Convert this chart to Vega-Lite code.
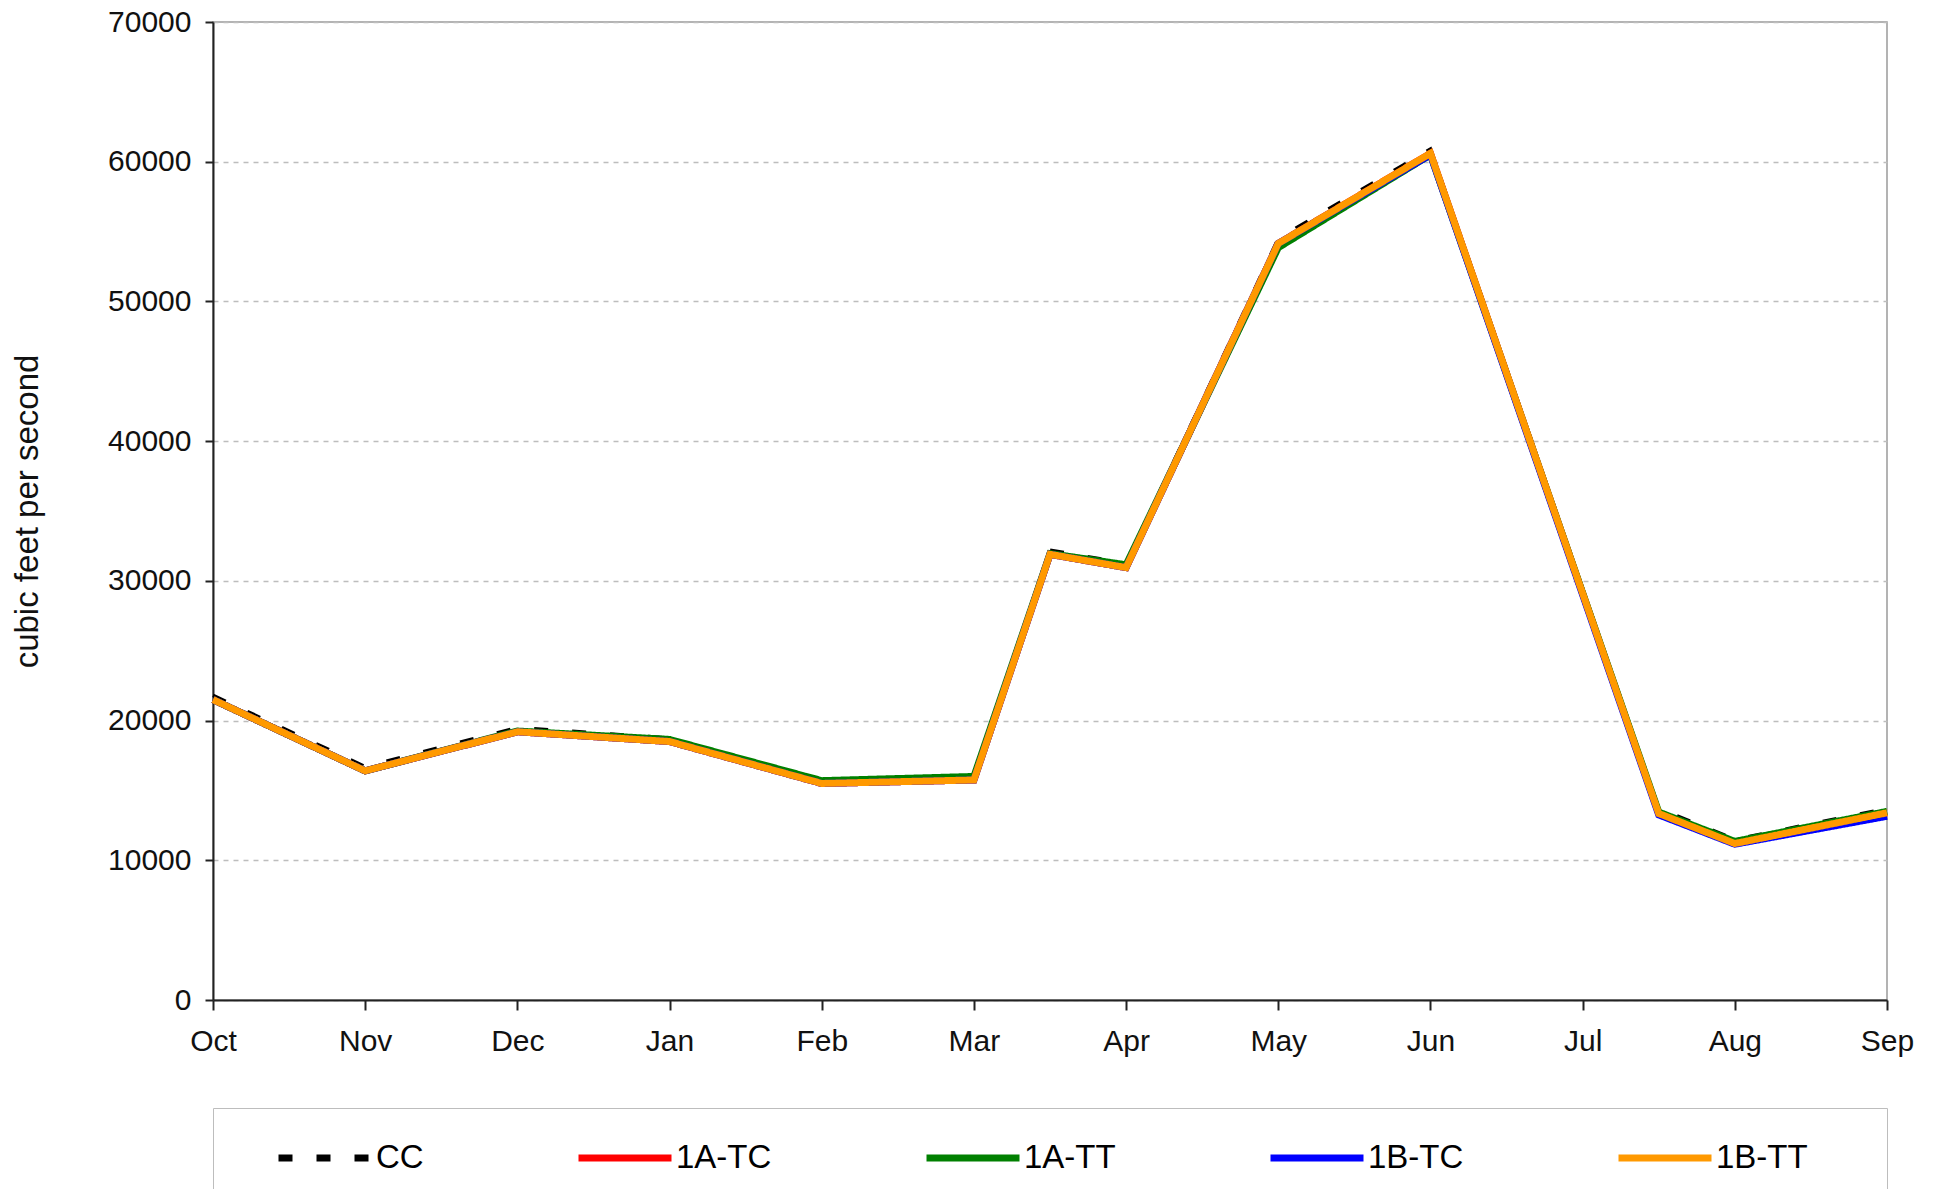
{
  "$schema": "https://vega.github.io/schema/vega-lite/v6.json",
  "width": 1674,
  "height": 978,
  "autosize": {"type": "none"},
  "padding": {"left": 213, "top": 22, "right": 48, "bottom": 189},
  "background": "white",
  "config": {
    "view": {"stroke": "#9a9a9a", "strokeWidth": 1.5},
    "font": "Liberation Sans"
  },
  "data": {
    "values": [
      {"m": 0, "s": "CC", "v": 21800}, {"m": 1, "s": "CC", "v": 16700}, {"m": 2, "s": "CC", "v": 19500}, {"m": 3, "s": "CC", "v": 18750}, {"m": 4, "s": "CC", "v": 15750}, {"m": 5, "s": "CC", "v": 16050}, {"m": 5.5, "s": "CC", "v": 32200}, {"m": 6, "s": "CC", "v": 31250}, {"m": 7, "s": "CC", "v": 54500}, {"m": 8, "s": "CC", "v": 60900}, {"m": 9.5, "s": "CC", "v": 13700}, {"m": 10, "s": "CC", "v": 11500}, {"m": 11, "s": "CC", "v": 13700},
      {"m": 0, "s": "1A-TC", "v": 21500}, {"m": 1, "s": "1A-TC", "v": 16400}, {"m": 2, "s": "1A-TC", "v": 19200}, {"m": 3, "s": "1A-TC", "v": 18500}, {"m": 4, "s": "1A-TC", "v": 15500}, {"m": 5, "s": "1A-TC", "v": 15750}, {"m": 5.5, "s": "1A-TC", "v": 31900}, {"m": 6, "s": "1A-TC", "v": 30950}, {"m": 7, "s": "1A-TC", "v": 54150}, {"m": 8, "s": "1A-TC", "v": 60600}, {"m": 9.5, "s": "1A-TC", "v": 13350}, {"m": 10, "s": "1A-TC", "v": 11200}, {"m": 11, "s": "1A-TC", "v": 13400},
      {"m": 0, "s": "1A-TT", "v": 21500}, {"m": 1, "s": "1A-TT", "v": 16400}, {"m": 2, "s": "1A-TT", "v": 19250}, {"m": 3, "s": "1A-TT", "v": 18650}, {"m": 4, "s": "1A-TT", "v": 15700}, {"m": 5, "s": "1A-TT", "v": 16000}, {"m": 5.5, "s": "1A-TT", "v": 31950}, {"m": 6, "s": "1A-TT", "v": 31150}, {"m": 7, "s": "1A-TT", "v": 53850}, {"m": 8, "s": "1A-TT", "v": 60500}, {"m": 9.5, "s": "1A-TT", "v": 13450}, {"m": 10, "s": "1A-TT", "v": 11350}, {"m": 11, "s": "1A-TT", "v": 13500},
      {"m": 0, "s": "1B-TC", "v": 21500}, {"m": 1, "s": "1B-TC", "v": 16400}, {"m": 2, "s": "1B-TC", "v": 19200}, {"m": 3, "s": "1B-TC", "v": 18500}, {"m": 4, "s": "1B-TC", "v": 15500}, {"m": 5, "s": "1B-TC", "v": 15750}, {"m": 5.5, "s": "1B-TC", "v": 31900}, {"m": 6, "s": "1B-TC", "v": 30950}, {"m": 7, "s": "1B-TC", "v": 54150}, {"m": 8, "s": "1B-TC", "v": 60500}, {"m": 9.5, "s": "1B-TC", "v": 13250}, {"m": 10, "s": "1B-TC", "v": 11150}, {"m": 11, "s": "1B-TC", "v": 13150},
      {"m": 0, "s": "1B-TT", "v": 21500}, {"m": 1, "s": "1B-TT", "v": 16400}, {"m": 2, "s": "1B-TT", "v": 19200}, {"m": 3, "s": "1B-TT", "v": 18500}, {"m": 4, "s": "1B-TT", "v": 15500}, {"m": 5, "s": "1B-TT", "v": 15750}, {"m": 5.5, "s": "1B-TT", "v": 31900}, {"m": 6, "s": "1B-TT", "v": 30950}, {"m": 7, "s": "1B-TT", "v": 54150}, {"m": 8, "s": "1B-TT", "v": 60600}, {"m": 9.5, "s": "1B-TT", "v": 13350}, {"m": 10, "s": "1B-TT", "v": 11200}, {"m": 11, "s": "1B-TT", "v": 13400}
    ]
  },
  "encoding": {
    "x": {
      "field": "m", "type": "quantitative",
      "scale": {"domain": [0, 11], "nice": false, "zero": false},
      "axis": {
        "values": [0, 1, 2, 3, 4, 5, 6, 7, 8, 9, 10, 11],
        "labelExpr": "['Oct','Nov','Dec','Jan','Feb','Mar','Apr','May','Jun','Jul','Aug','Sep'][datum.value]",
        "title": null, "grid": false,
        "domainColor": "#222", "domainWidth": 2,
        "tickColor": "#222", "tickWidth": 2, "tickSize": 10,
        "labelFontSize": 30, "labelPadding": 16, "labelColor": "#111",
        "labelFont": "Liberation Sans", "labelFlush": false, "labelOverlap": false
      }
    },
    "y": {
      "field": "v", "type": "quantitative",
      "scale": {"domain": [0, 70000], "nice": false},
      "axis": {
        "values": [0, 10000, 20000, 30000, 40000, 50000, 60000, 70000],
        "format": "d",
        "title": "cubic feet per second",
        "titleFontSize": 33, "titleFontWeight": "normal", "titleColor": "#111",
        "titleFont": "Liberation Sans", "titleX": -186, "titleBaseline": "middle",
        "grid": true, "gridDash": [5, 5], "gridColor": "#bdbdbd", "gridWidth": 1.5,
        "domainColor": "#222", "domainWidth": 2,
        "tickColor": "#222", "tickWidth": 2, "tickSize": 8,
        "labelFontSize": 30, "labelPadding": 14, "labelColor": "#111",
        "labelFont": "Liberation Sans", "labelFlush": false, "labelOverlap": false
      }
    },
    "color": {
      "field": "s", "type": "nominal",
      "scale": {
        "domain": ["CC", "1A-TC", "1A-TT", "1B-TC", "1B-TT"],
        "range": ["#000000", "#ff0000", "#008000", "#0000ff", "#ff9900"]
      },
      "legend": {
        "orient": "none", "legendX": 0, "legendY": 1086,
        "direction": "horizontal", "columns": 5,
        "title": [" ", " ", " "], "titleOrient": "left", "titleFontSize": 40, "titleLineHeight": 40, "titlePadding": 62,
        "padding": 0, "strokeColor": "#bdbdbd", "fillColor": "white",
        "symbolType": "stroke", "symbolSize": 8649, "symbolStrokeWidth": 7,
        "labelFontSize": 33, "labelOffset": 1, "columnPadding": 140,
        "labelColor": "#000", "labelLimit": 400, "labelFont": "Liberation Sans",
        "labelExpr": "datum.label == '1B-TT' ? datum.label + '\u00a0\u00a0\u00a0\u00a0\u00a0\u00a0\u2800' : datum.label"
      }
    },
    "strokeDash": {
      "field": "s", "type": "nominal",
      "scale": {
        "domain": ["CC", "1A-TC", "1A-TT", "1B-TC", "1B-TT"],
        "range": [[14, 24], [1, 0], [1, 0], [1, 0], [1, 0]]
      },
      "legend": {
        "orient": "none", "legendX": 0, "legendY": 1086,
        "direction": "horizontal", "columns": 5,
        "title": [" ", " ", " "], "titleOrient": "left", "titleFontSize": 40, "titleLineHeight": 40, "titlePadding": 62,
        "padding": 0, "strokeColor": "#bdbdbd", "fillColor": "white",
        "symbolType": "stroke", "symbolSize": 8649, "symbolStrokeWidth": 7,
        "labelFontSize": 33, "labelOffset": 1, "columnPadding": 140,
        "labelColor": "#000", "labelLimit": 400, "labelFont": "Liberation Sans",
        "labelExpr": "datum.label == '1B-TT' ? datum.label + '\u00a0\u00a0\u00a0\u00a0\u00a0\u00a0\u2800' : datum.label"
      }
    }
  },
  "layer": [
    {
      "transform": [{"filter": "datum.s == 'CC'"}],
      "mark": {"type": "line", "strokeWidth": 3.5}
    },
    {
      "transform": [{"filter": "datum.s != 'CC'"}],
      "mark": {"type": "line", "strokeWidth": 7}
    }
  ]
}
